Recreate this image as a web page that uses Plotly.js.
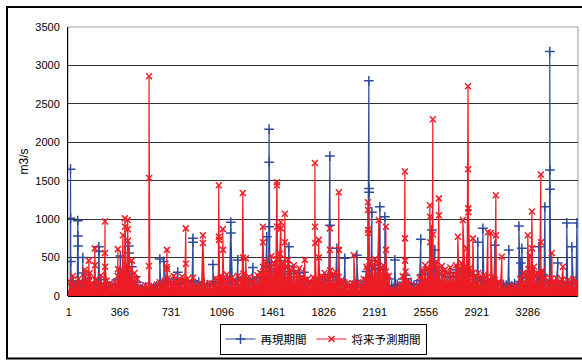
<!DOCTYPE html>
<html>
<head>
<meta charset="utf-8">
<script src="https://cdn.plot.ly/plotly-3.0.1.min.js"></script>
<style>
html,body{margin:0;padding:0;background:#fff;}
#chart{width:582px;height:360px;}
</style>
</head>
<body>
<div id="chart"></div>
<script>
// ---- Data ----
// Base daily flow samples, one every 10 days starting at day 1 (m3/s)
const baseStep = 10;
const redBase = [
20,180,40,260,30,150,60,220,25,170,
45,240,30,190,20,300,50,160,35,210,
25,180,40,270,30,140,55,200,20,160,
30,140,25,180,40,260,60,330,45,280,
70,400,50,350,80,460,60,300,40,220,
25,120,15,100,30,140,20,90,35,130,
20,110,30,150,25,180,40,160,30,200,
45,230,30,170,50,260,35,190,25,210,
40,250,30,180,55,220,35,160,45,240,
25,130,20,160,15,110,30,140,20,120,
25,170,35,150,40,230,30,200,50,260,
35,190,45,280,30,210,50,240,25,180,
40,260,30,220,45,290,35,200,55,250,
30,180,40,230,50,270,35,300,60,380,
80,450,60,380,90,520,70,420,100,480,
70,550,90,430,60,380,80,470,50,340,
60,400,45,300,70,360,40,250,30,200,
40,220,30,170,45,240,35,190,25,210,
40,260,55,300,35,240,60,330,45,280,
50,310,35,250,40,200,30,180,25,160,
20,130,35,170,25,150,30,180,20,140,
40,220,70,380,90,450,60,400,80,480,
100,430,70,360,90,400,60,320,50,260,
20,90,15,70,25,110,30,150,50,260,
60,320,40,200,20,120,15,90,25,130,
40,240,60,330,80,400,70,350,90,420,
60,380,80,450,50,320,70,390,60,340,
45,300,70,370,50,280,80,400,60,350,
90,430,70,380,60,320,80,360,50,300,
40,260,60,300,35,220,50,270,40,240,
30,200,45,250,35,210,25,180,30,160,
20,110,15,90,25,130,20,100,30,120,
20,140,40,220,60,300,50,270,70,350,
50,320,80,380,60,300,45,280,70,330,
40,240,30,190,45,220,35,170,50,230,
30,180,45,210,25,160,40,200,30,170,
45,220,35,190,30
];
const blueBase = [
15,150,30,200,25,120,50,180,20,140,
35,200,25,160,15,240,40,130,30,170,
20,150,35,210,25,120,45,170,15,130,
25,120,20,150,35,220,50,280,40,240,
60,330,45,290,70,380,50,250,35,180,
20,100,12,80,25,120,15,75,30,110,
15,95,25,130,20,150,35,140,25,170,
40,190,25,150,45,220,30,160,20,180,
35,210,25,150,45,190,30,140,40,200,
30,150,25,180,20,130,35,160,25,140,
20,140,30,130,35,190,25,170,40,220,
30,160,40,230,25,180,45,200,20,150,
35,220,25,190,40,240,30,170,45,210,
25,150,35,190,45,230,30,250,50,320,
70,380,50,320,80,440,60,350,85,400,
60,460,75,360,50,320,70,390,45,290,
50,330,40,250,60,300,35,210,25,170,
35,190,25,140,40,200,30,160,20,180,
35,220,45,250,30,200,50,280,40,240,
45,260,30,210,35,170,25,150,20,140,
15,110,30,140,20,130,25,150,15,120,
35,190,60,320,80,380,50,340,70,400,
85,360,60,300,80,340,50,270,45,220,
30,140,25,120,35,150,25,130,45,220,
50,270,35,170,30,160,25,140,30,150,
35,200,50,280,70,340,60,300,75,350,
50,320,70,380,45,270,60,330,50,290,
40,250,60,310,45,240,70,340,50,300,
75,360,60,320,50,270,70,300,45,250,
35,220,50,250,30,190,45,230,35,200,
25,170,40,210,30,180,20,150,25,140,
30,150,25,140,35,170,30,130,40,160,
20,120,35,190,50,250,45,230,60,300,
45,270,70,320,50,250,40,240,60,280,
35,200,25,160,40,190,30,150,45,200,
25,150,40,180,20,140,35,170,25,150,
40,190,30,160,25
];

// Flood peaks (day number, m3/s)
const redPeakDays = [116,144,145,187,188,259,260,261,352,353,388,402,403,422,423,424,
574,575,576,702,703,704,838,839,960,961,1074,1075,1076,1103,1104,1246,1247,1268,
1390,1391,1490,1491,1492,1518,1519,1547,1548,1690,1762,1763,1764,1790,1791,1869,1870,
1933,1934,2041,2141,2142,2143,2144,2220,2270,2271,2406,2407,2408,2585,2586,2587,
2606,2607,2649,2650,2785,2821,2850,2858,2859,2860,2861,2893,3000,3021,3057,3058,
3100,3286,3300,3315,3316,3379,3380,3458,3537];
const redPeakVals = [340,460,250,620,400,560,970,380,610,350,790,1010,900,990,870,720,
390,2860,1535,380,600,350,880,420,790,690,1440,770,730,870,600,1340,500,490,
900,700,1480,1440,900,960,880,1070,700,470,1730,900,690,730,500,880,600,
1350,600,530,1220,1120,860,820,990,900,600,1620,750,460,1180,1030,700,
2300,800,1270,1050,770,990,620,2730,1650,1140,1090,750,830,820,1310,790,
510,790,530,1100,620,1580,700,560,380];

const bluePeakDays = [13,14,15,65,66,67,101,102,216,217,370,430,431,652,681,780,889,890,
1032,1160,1161,1210,1318,1418,1434,1435,1436,1576,1683,1869,1870,1919,1976,2062,
2148,2149,2150,2170,2227,2263,2334,2520,2599,2620,2928,2964,3050,3150,3222,3236,3243,
3365,3408,3443,3444,3445,3500,3565,3601,3637];
const bluePeakVals = [1650,1010,450,980,780,650,500,300,640,580,520,650,560,480,450,310,750,700,
410,960,820,470,370,770,2170,1740,900,640,310,1820,920,620,490,530,
2800,1400,1350,1090,1160,1030,470,740,860,600,700,880,660,600,910,430,620,
640,1160,3180,1640,1390,430,950,640,950];

const tickDays = [1,366,731,1096,1461,1826,2191,2556,2921,3286];
const tickLabels = ['1','366','731','1096','1461','1826','2191','2556','2921','3286'];
const seriesNames = ['再現期間','将来予測期間'];

// ---- Build series (merge base samples with peak days, sorted by day) ----
function buildSeries(base, pDays, pVals){
  const pts = [];
  base.forEach((v,i)=>pts.push([1+i*baseStep, v]));
  pDays.forEach((d,i)=>pts.push([d, pVals[i]]));
  pts.sort((a,b)=>a[0]-b[0]);
  return {x: pts.map(p=>p[0]), y: pts.map(p=>p[1])};
}
const blue = buildSeries(blueBase, bluePeakDays, bluePeakVals);
const red = buildSeries(redBase, redPeakDays, redPeakVals);

const BLUE = '#2d4c9e', RED = '#ee1d25';
const traces = [
  {type:'scatter', mode:'lines+markers', name: seriesNames[0], x: blue.x, y: blue.y,
   line:{color:BLUE, width:1.2},
   marker:{symbol:'cross-thin-open', size:7, color:BLUE, line:{color:BLUE, width:1.5}}},
  // dense daily band of the future series (drawn as solid under its line)
  {type:'scatter', mode:'none', x: red.x, y: red.y, fill:'tozeroy',
   fillcolor:RED, showlegend:false, hoverinfo:'skip'},
  {type:'scatter', mode:'lines+markers', name: seriesNames[1], x: red.x, y: red.y,
   line:{color:RED, width:1.2},
   marker:{symbol:'x-thin-open', size:6, color:RED, line:{color:RED, width:1.5}}}
];

const L=68, R=4, T=27, B=64, W=582, H=360;
const pw = W-L-R, ph = H-T-B;
const px2paperX = p => (p-L)/pw;
const py2paperY = p => (H-B-p)/ph;

const layout = {
  width: W, height: H,
  margin:{l:L, r:R, t:T, b:B, pad:0},
  paper_bgcolor:'#fff', plot_bgcolor:'#fff',
  font:{family:'"Liberation Sans", Arial, sans-serif', size:11, color:'#000'},
  showlegend:true,
  legend:{orientation:'h', x:0.5, xanchor:'center', y:py2paperY(339), yanchor:'middle',
    bordercolor:'#000', borderwidth:1, bgcolor:'#fff',
    font:{family:'"Noto Sans CJK JP", sans-serif', size:11.5, color:'#000'},
    itemwidth:30, tracegroupgap:0, traceorder:'normal'},
  xaxis:{range:[-5,3645], tickmode:'array', tickvals:tickDays, ticktext:tickLabels,
    showgrid:false, zeroline:false, showline:false, ticks:'',
    ticklabelstandoff:8, tickfont:{size:11}},
  yaxis:{range:[0,3500], dtick:500, tick0:0, showgrid:true, gridcolor:'#333', gridwidth:1,
    zeroline:true, zerolinecolor:'#000', zerolinewidth:1,
    showline:true, linecolor:'#000', linewidth:1, ticks:'',
    ticklabelstandoff:5, tickfont:{size:11},
    title:{text:'m3/s', standoff:4, font:{family:'"Liberation Sans", Arial, sans-serif', size:12}}},
  shapes:[
    {type:'rect', xref:'paper', yref:'paper', x0:0, x1:1, y0:0, y1:1,
     line:{color:'#9a9a9a', width:1}, layer:'below'},
    {type:'rect', xref:'paper', yref:'paper',
     x0:px2paperX(7), x1:px2paperX(600), y0:py2paperY(358.5), y1:py2paperY(7),
     line:{color:'#000', width:2}, fillcolor:'rgba(0,0,0,0)', layer:'above'}
  ]
};

Plotly.newPlot('chart', traces, layout, {staticPlot:true, displayModeBar:false});
</script>
</body>
</html>
